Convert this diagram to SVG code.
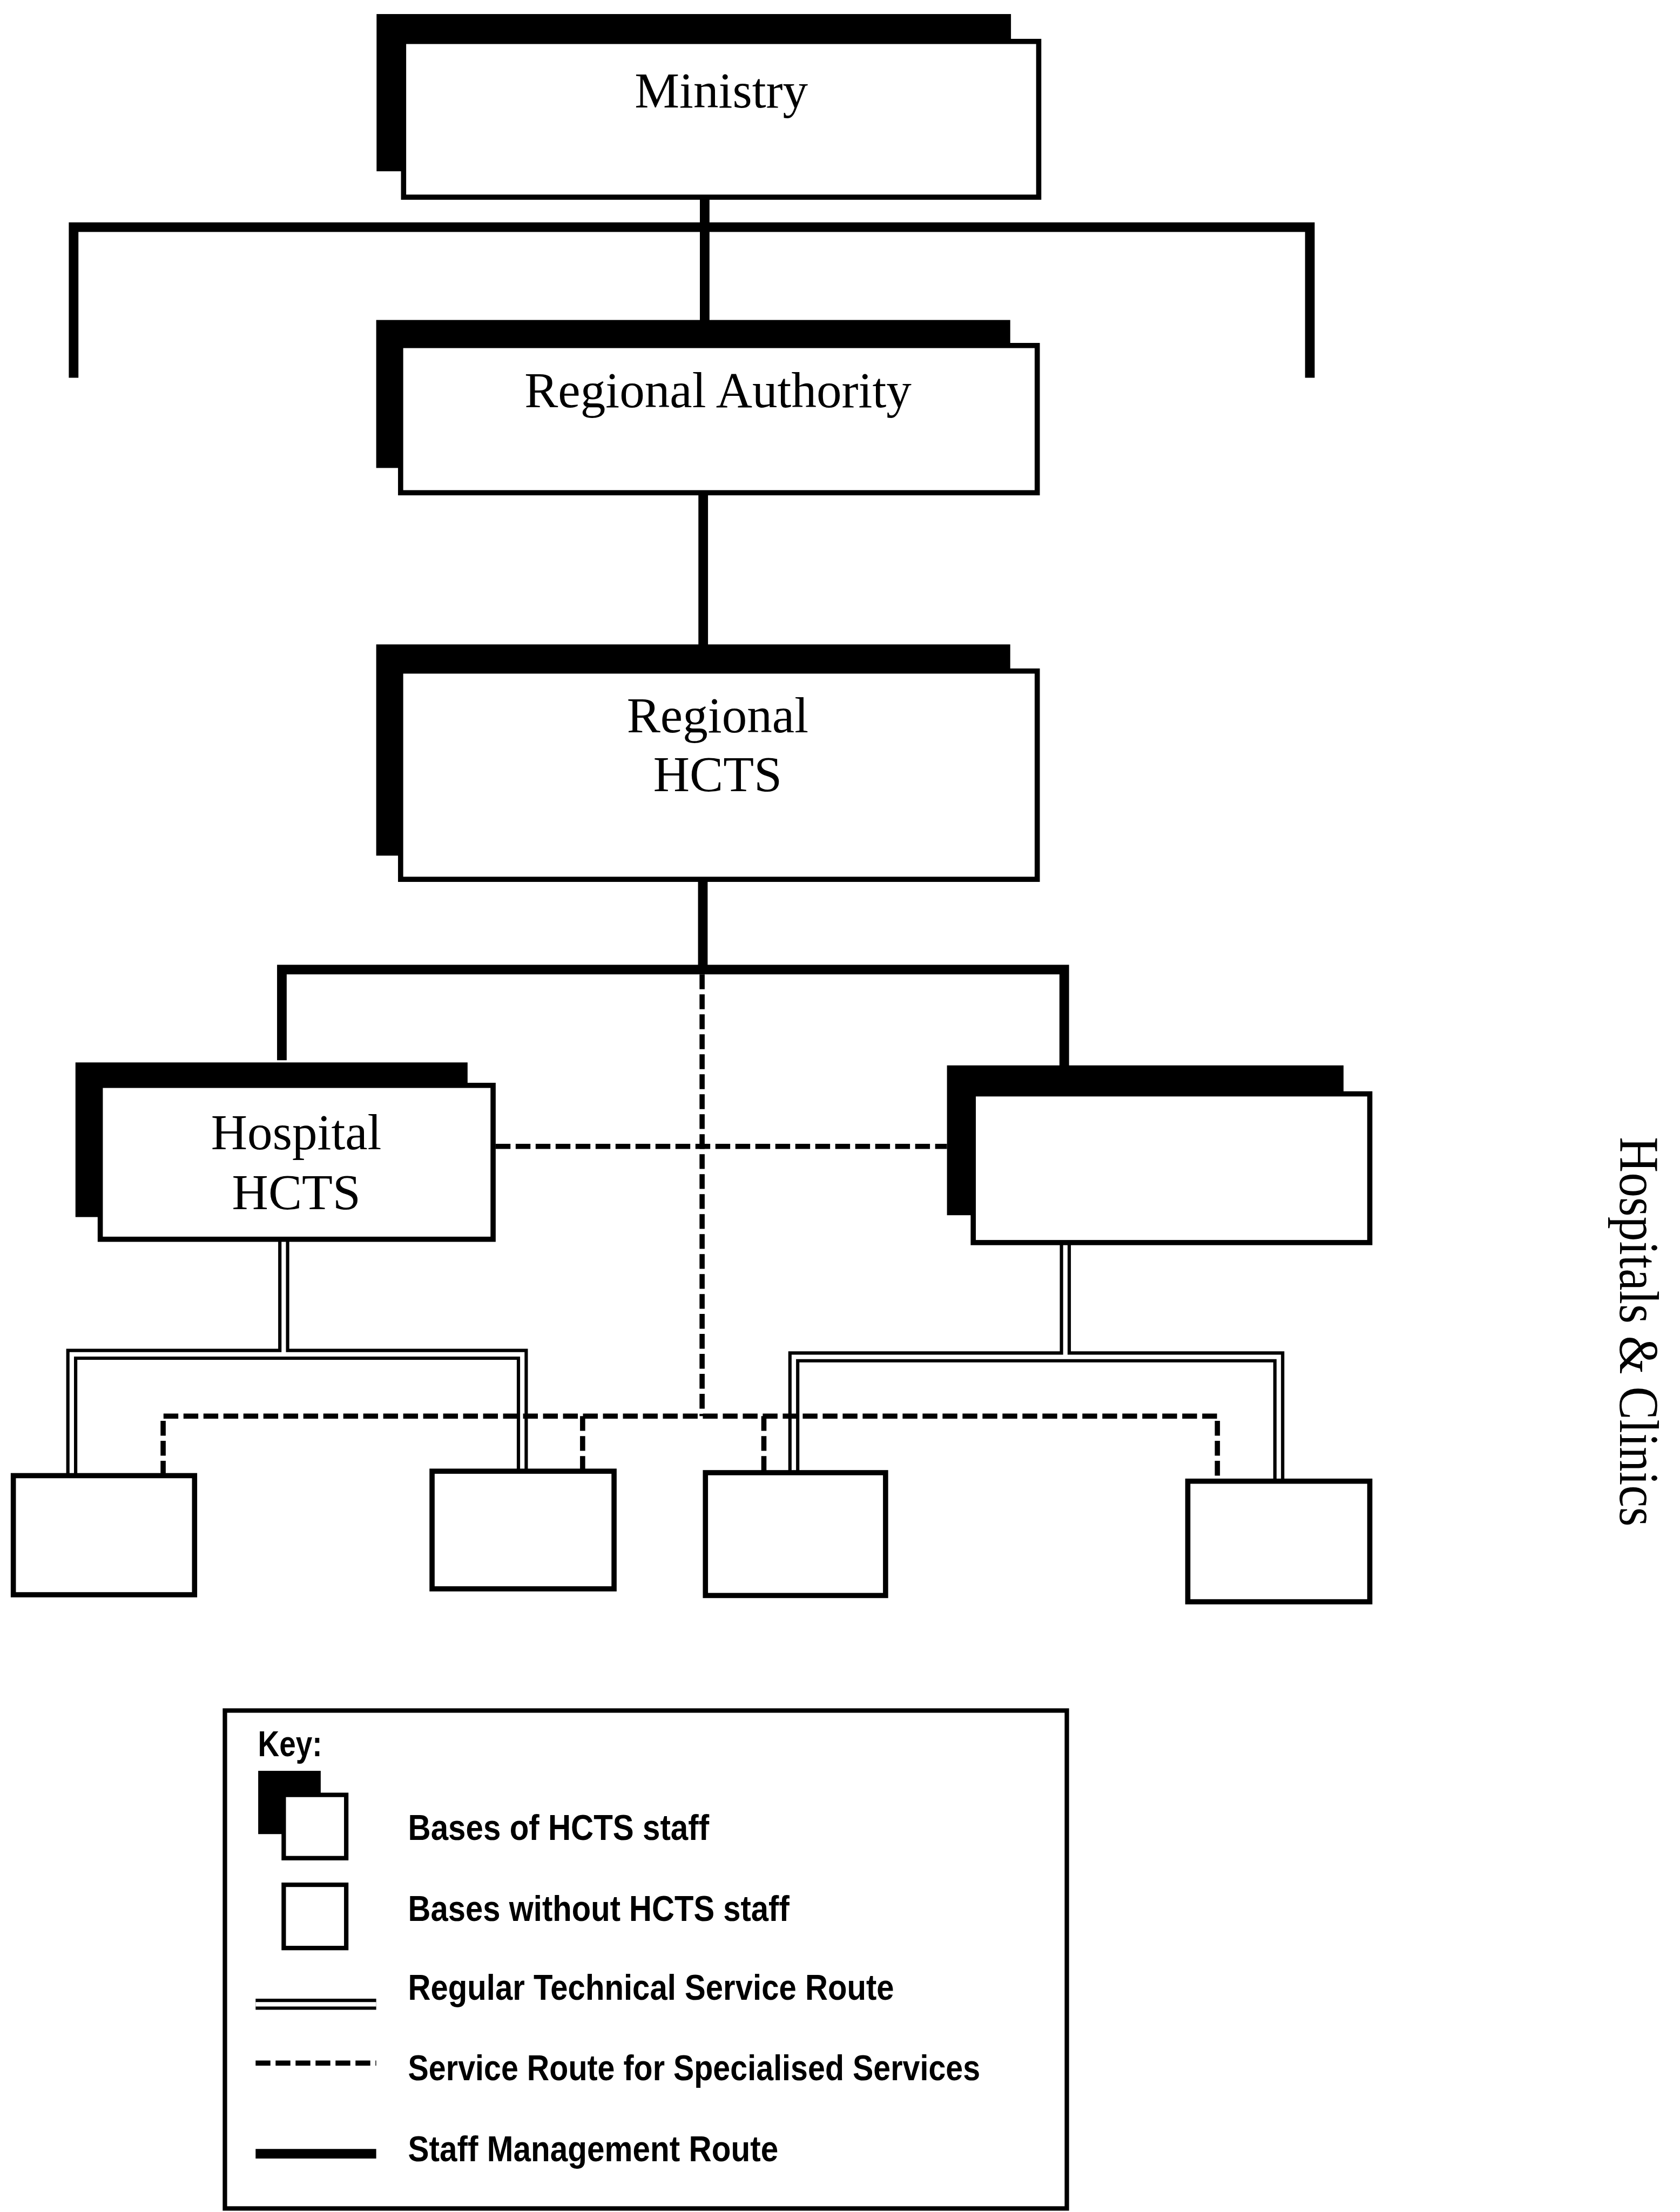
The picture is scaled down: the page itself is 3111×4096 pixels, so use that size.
<svg xmlns="http://www.w3.org/2000/svg" width="3111" height="4096" viewBox="0 0 3111 4096">
<style>
.shadow{fill:#000;stroke:none}
.box{fill:#fff;stroke:#000;stroke-width:14}
.kbox{fill:#fff;stroke:#000;stroke-width:12}
.mgmt{fill:none;stroke:#000;stroke-width:26;stroke-linejoin:miter;stroke-linecap:butt}
.dblo{fill:none;stroke:#000;stroke-width:30;stroke-linejoin:miter}
.dbli{fill:none;stroke:#fff;stroke-width:12;stroke-linejoin:miter}
.spec{fill:none;stroke:#000;stroke-width:14;stroke-dasharray:40 14}
.h{font-family:"Liberation Serif","Times New Roman",serif;font-size:136px;text-anchor:middle;fill:#000}
.side{font-family:"Liberation Serif","Times New Roman",serif;font-size:150px;text-anchor:middle;fill:#000}
.k{font-family:"Liberation Sans",Arial,sans-serif;font-size:96px;font-weight:bold;fill:#000}
</style>
<rect width="3111" height="4096" fill="#fff"/>
<g transform="scale(0.685)">
<g id="connectors">
  <!-- staff management routes -->
  <path class="mgmt" d="M1905 533 V868"/>
  <path class="mgmt" d="M199 1021 V614 H3541 V1021"/>
  <path class="mgmt" d="M1901 1332 V1745"/>
  <path class="mgmt" d="M1900 2377 V2621"/>
  <path class="mgmt" d="M762 2866 V2621 H2877 V2882"/>
  <!-- regular technical service routes (double lines) -->
  <path class="dblo" d="M194 3995 V3661 H1412 V3983"/>
  <path class="dblo" d="M767 3350 V3661"/>
  <path class="dblo" d="M2146 3987 V3668 H3457 V4010"/>
  <path class="dblo" d="M2880 3359 V3668"/>
  <path class="dbli" d="M194 3995 V3661 H1412 V3983"/>
  <path class="dbli" d="M767 3350 V3661"/>
  <path class="dbli" d="M2146 3987 V3668 H3457 V4010"/>
  <path class="dbli" d="M2880 3359 V3668"/>
  <!-- specialised service routes (dashed) -->
  <path class="spec" d="M1898 2634 V3828"/>
  <path class="spec" d="M1340 3099 H2560"/>
  <path class="spec" d="M441 3989 V3828 H3291 V4004"/>
  <path class="spec" d="M1575 3828 V3977"/>
  <path class="spec" d="M2065 3828 V3981"/>
</g>
<g id="ministry">
  <rect class="shadow" x="1018" y="38" width="1715" height="425"/>
  <rect class="box" x="1091" y="112" width="1717" height="421"/>
  <text class="h" x="1950" y="290">Ministry</text>
</g>
<g id="regional-authority">
  <rect class="shadow" x="1017" y="865" width="1714" height="400"/>
  <rect class="box" x="1083" y="934" width="1721" height="398"/>
  <text class="h" x="1941" y="1100">Regional Authority</text>
</g>
<g id="regional-hcts">
  <rect class="shadow" x="1017" y="1742" width="1714" height="571"/>
  <rect class="box" x="1083" y="1814" width="1721" height="563"/>
  <text class="h" x="1940" y="1980">Regional</text>
  <text class="h" x="1940" y="2138">HCTS</text>
</g>
<g id="hospital-hcts">
  <rect class="shadow" x="204" y="2872" width="1060" height="418"/>
  <rect class="box" x="271" y="2934" width="1062" height="416"/>
  <text class="h" x="801" y="3107">Hospital</text>
  <text class="h" x="801" y="3268">HCTS</text>
</g>
<g id="hospital-2">
  <rect class="shadow" x="2560" y="2880" width="1072" height="405"/>
  <rect class="box" x="2631" y="2957" width="1072" height="402"/>
</g>
<g id="base-1"><rect class="box" x="36" y="3989" width="490" height="322"/></g>
<g id="base-2"><rect class="box" x="1168" y="3977" width="492" height="318"/></g>
<g id="base-3"><rect class="box" x="1907" y="3981" width="487" height="332"/></g>
<g id="base-4"><rect class="box" x="3211" y="4004" width="492" height="326"/></g>
<g id="side-label">
  <text class="side" transform="translate(4380 3600) rotate(90)" textLength="1053" lengthAdjust="spacingAndGlyphs">Hospitals &amp; Clinics</text>
</g>
<g id="key">
  <rect class="kbox" x="608" y="4624" width="2276" height="1346"/>
  <text class="k" x="697" y="4748" textLength="174" lengthAdjust="spacingAndGlyphs">Key:</text>
  <rect class="shadow" x="698" y="4787" width="169" height="171"/>
  <rect class="kbox" x="767" y="4852" width="169" height="171"/>
  <text class="k" x="1103" y="4973" textLength="814" lengthAdjust="spacingAndGlyphs">Bases of HCTS staff</text>
  <rect class="kbox" x="767" y="5095" width="169" height="171"/>
  <text class="k" x="1103" y="5193" textLength="1031" lengthAdjust="spacingAndGlyphs">Bases without HCTS staff</text>
  <path class="dblo" d="M691 5418 H1017"/>
  <path class="dbli" d="M691 5418 H1017"/>
  <text class="k" x="1103" y="5406" textLength="1314" lengthAdjust="spacingAndGlyphs">Regular Technical Service Route</text>
  <path class="spec" d="M691 5577 H1017"/>
  <text class="k" x="1103" y="5624" textLength="1547" lengthAdjust="spacingAndGlyphs">Service Route for Specialised Services</text>
  <path class="mgmt" d="M691 5822 H1017"/>
  <text class="k" x="1103" y="5843" textLength="1001" lengthAdjust="spacingAndGlyphs">Staff Management Route</text>
</g>
</g>
</svg>
